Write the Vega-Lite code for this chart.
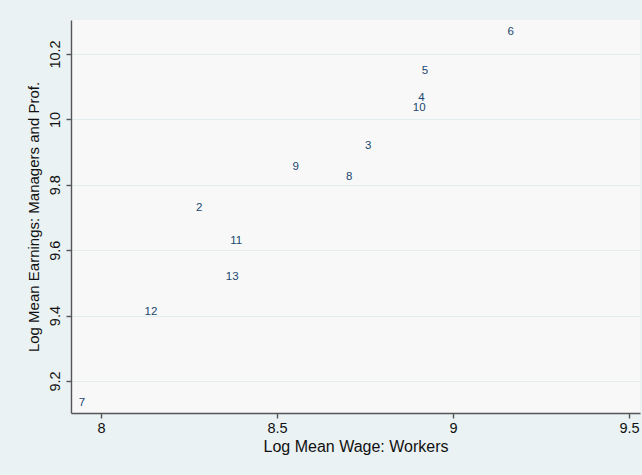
{
  "$schema": "https://vega.github.io/schema/vega-lite/v6.json",
  "width": 569,
  "height": 393,
  "autosize": {"type": "none"},
  "padding": {"left": 71, "top": 20, "right": 2, "bottom": 62},
  "background": "#EAF2F3",
  "config": {
    "view": {"fill": "#F8F8F8", "stroke": null},
    "font": "Liberation Sans",
    "axis": {
      "domainColor": "#555555",
      "domainWidth": 1.4,
      "tickColor": "#555555",
      "tickWidth": 1.4,
      "tickSize": 5,
      "labelColor": "#111111",
      "titleColor": "#111111",
      "labelFont": "Liberation Sans",
      "titleFont": "Liberation Sans",
      "labelFontSize": 14.5,
      "titleFontWeight": "normal",
      "gridColor": "#E3EDEF",
      "gridWidth": 1
    }
  },
  "data": {
    "values": [
      {"id": "2", "wage": 8.279, "earn": 9.734},
      {"id": "3", "wage": 8.759, "earn": 9.925},
      {"id": "4", "wage": 8.910, "earn": 10.073},
      {"id": "5", "wage": 8.920, "earn": 10.154},
      {"id": "6", "wage": 9.164, "earn": 10.274},
      {"id": "7", "wage": 7.946, "earn": 9.139},
      {"id": "8", "wage": 8.705, "earn": 9.831},
      {"id": "9", "wage": 8.553, "earn": 9.859},
      {"id": "10", "wage": 8.904, "earn": 10.041},
      {"id": "11", "wage": 8.384, "earn": 9.635},
      {"id": "12", "wage": 8.142, "earn": 9.416},
      {"id": "13", "wage": 8.373, "earn": 9.523}
    ]
  },
  "mark": {
    "type": "text",
    "font": "Liberation Sans",
    "fontSize": 11.5,
    "color": "#1A476F",
    "align": "center",
    "baseline": "middle",
    "dy": 2
  },
  "encoding": {
    "x": {
      "field": "wage",
      "type": "quantitative",
      "scale": {"domain": [7.915, 9.531], "nice": false, "zero": false},
      "axis": {
        "title": "Log Mean Wage: Workers",
        "titleFontSize": 16,
        "values": [8, 8.5, 9, 9.5],
        "format": ".1~f",
        "grid": false,
        "labelPadding": 3,
        "titlePadding": 4
      }
    },
    "y": {
      "field": "earn",
      "type": "quantitative",
      "scale": {"domain": [9.102, 10.304], "nice": false, "zero": false},
      "axis": {
        "title": "Log Mean Earnings: Managers and Prof.",
        "titleFontSize": 15,
        "values": [9.2, 9.4, 9.6, 9.8, 10, 10.2],
        "format": ".1~f",
        "grid": true,
        "labelAngle": 270,
        "labelAlign": "center",
        "labelBaseline": "bottom",
        "labelPadding": 4,
        "titlePadding": 6
      }
    },
    "text": {"field": "id", "type": "nominal"}
  }
}
